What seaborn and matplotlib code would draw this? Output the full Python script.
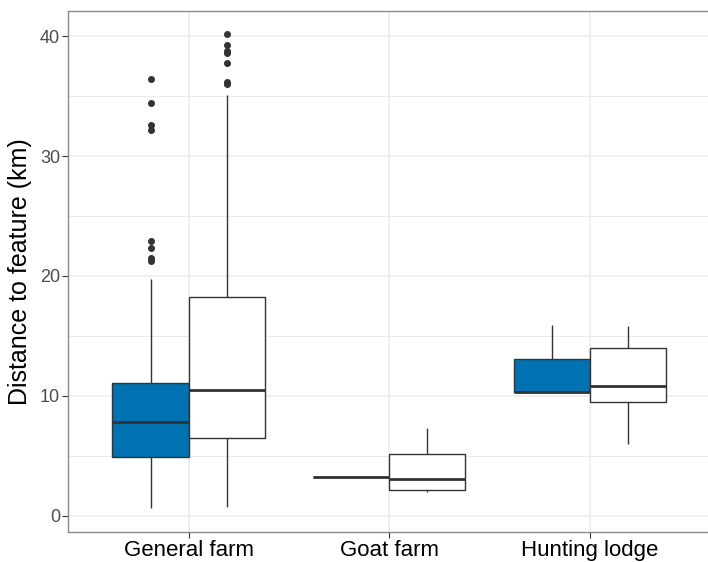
import numpy as np
import pandas as pd
import matplotlib
matplotlib.use("Agg")
import matplotlib.pyplot as plt
from matplotlib.ticker import MultipleLocator
import seaborn as sns

# categories on the x axis and the two groups drawn side by side
features = ["General farm", "Goat farm", "Hunting lodge"]
groups = ["Used", "Available"]

# five-number summaries (km): lower whisker, Q1, median, Q3, upper whisker
used_lo = [0.61, 3.25, 10.28]
used_q1 = [4.92, 3.25, 10.28]
used_med = [7.83, 3.25, 10.28]
used_q3 = [11.05, 3.25, 13.09]
used_hi = [19.7, 3.25, 15.9]
used_out = [[21.2, 21.5, 22.3, 22.9, 32.2, 32.6, 34.4, 36.4], [], []]

avail_lo = [0.75, 1.94, 6.01]
avail_q1 = [6.47, 2.17, 9.47]
avail_med = [10.47, 3.03, 10.79]
avail_q3 = [18.2, 5.17, 13.96]
avail_hi = [35.1, 7.3, 15.79]
avail_out = [[36.0, 36.2, 37.75, 38.6, 38.8, 39.3, 40.2], [], []]


def sample(lo, q1, med, q3, hi, out):
    # small sample whose quartiles and whiskers equal the read values
    f = len(out)
    a, b = 2 * f + 1, f + 1
    return [lo] + [q1] * a + [med] + [q3] * b + [hi] + list(out)


rows = []
for i, feat in enumerate(features):
    for v in sample(used_lo[i], used_q1[i], used_med[i], used_q3[i], used_hi[i], used_out[i]):
        rows.append((feat, "Used", v))
    for v in sample(avail_lo[i], avail_q1[i], avail_med[i], avail_q3[i], avail_hi[i], avail_out[i]):
        rows.append((feat, "Available", v))
df = pd.DataFrame(rows, columns=["feature", "group", "distance"])

sns.set_theme(style="white")
plt.rcParams["font.family"] = ["Liberation Sans", "DejaVu Sans"]

fig = plt.figure(figsize=(7.08, 5.62), dpi=100)
ax = fig.add_axes([0.0965, 0.0534, 0.9065, 0.927])

sns.boxplot(data=df, x="feature", y="distance", hue="group", order=features,
            hue_order=groups, palette={"Used": "#0072B2", "Available": "white"},
            saturation=1, width=0.76, gap=0, dodge=True, linecolor="#333333",
            linewidth=1.0, fliersize=4, legend=False, showcaps=False,
            medianprops={"linewidth": 2.0, "color": "#333333"},
            flierprops={"marker": "o", "markerfacecolor": "#333333",
                        "markeredgecolor": "#333333", "markersize": 4},
            ax=ax)

ax.set_xlim(-0.6, 2.6)
ax.set_ylim(-1.37, 42.1)
ax.yaxis.set_major_locator(MultipleLocator(10))
ax.yaxis.set_minor_locator(MultipleLocator(5))
ax.grid(True, which="major", color="#EBEBEB", linewidth=1.1)
ax.grid(True, which="minor", axis="y", color="#EBEBEB", linewidth=0.7)
ax.set_axisbelow(True)

for s in ax.spines.values():
    s.set_color("#8A8A8A")
    s.set_linewidth(1.0)

ax.tick_params(axis="both", which="major", length=4, width=0.8, color="#333333",
               left=True, bottom=True)
ax.tick_params(axis="y", which="minor", length=0)
ax.tick_params(axis="x", labelsize=16, labelcolor="black", pad=2)
ax.tick_params(axis="y", labelsize=13, labelcolor="#4D4D4D", pad=2)

ax.set_xlabel("")
ax.set_ylabel("Distance to feature (km)", fontsize=18, color="black", labelpad=6)

fig.savefig("out.png", dpi=100)
